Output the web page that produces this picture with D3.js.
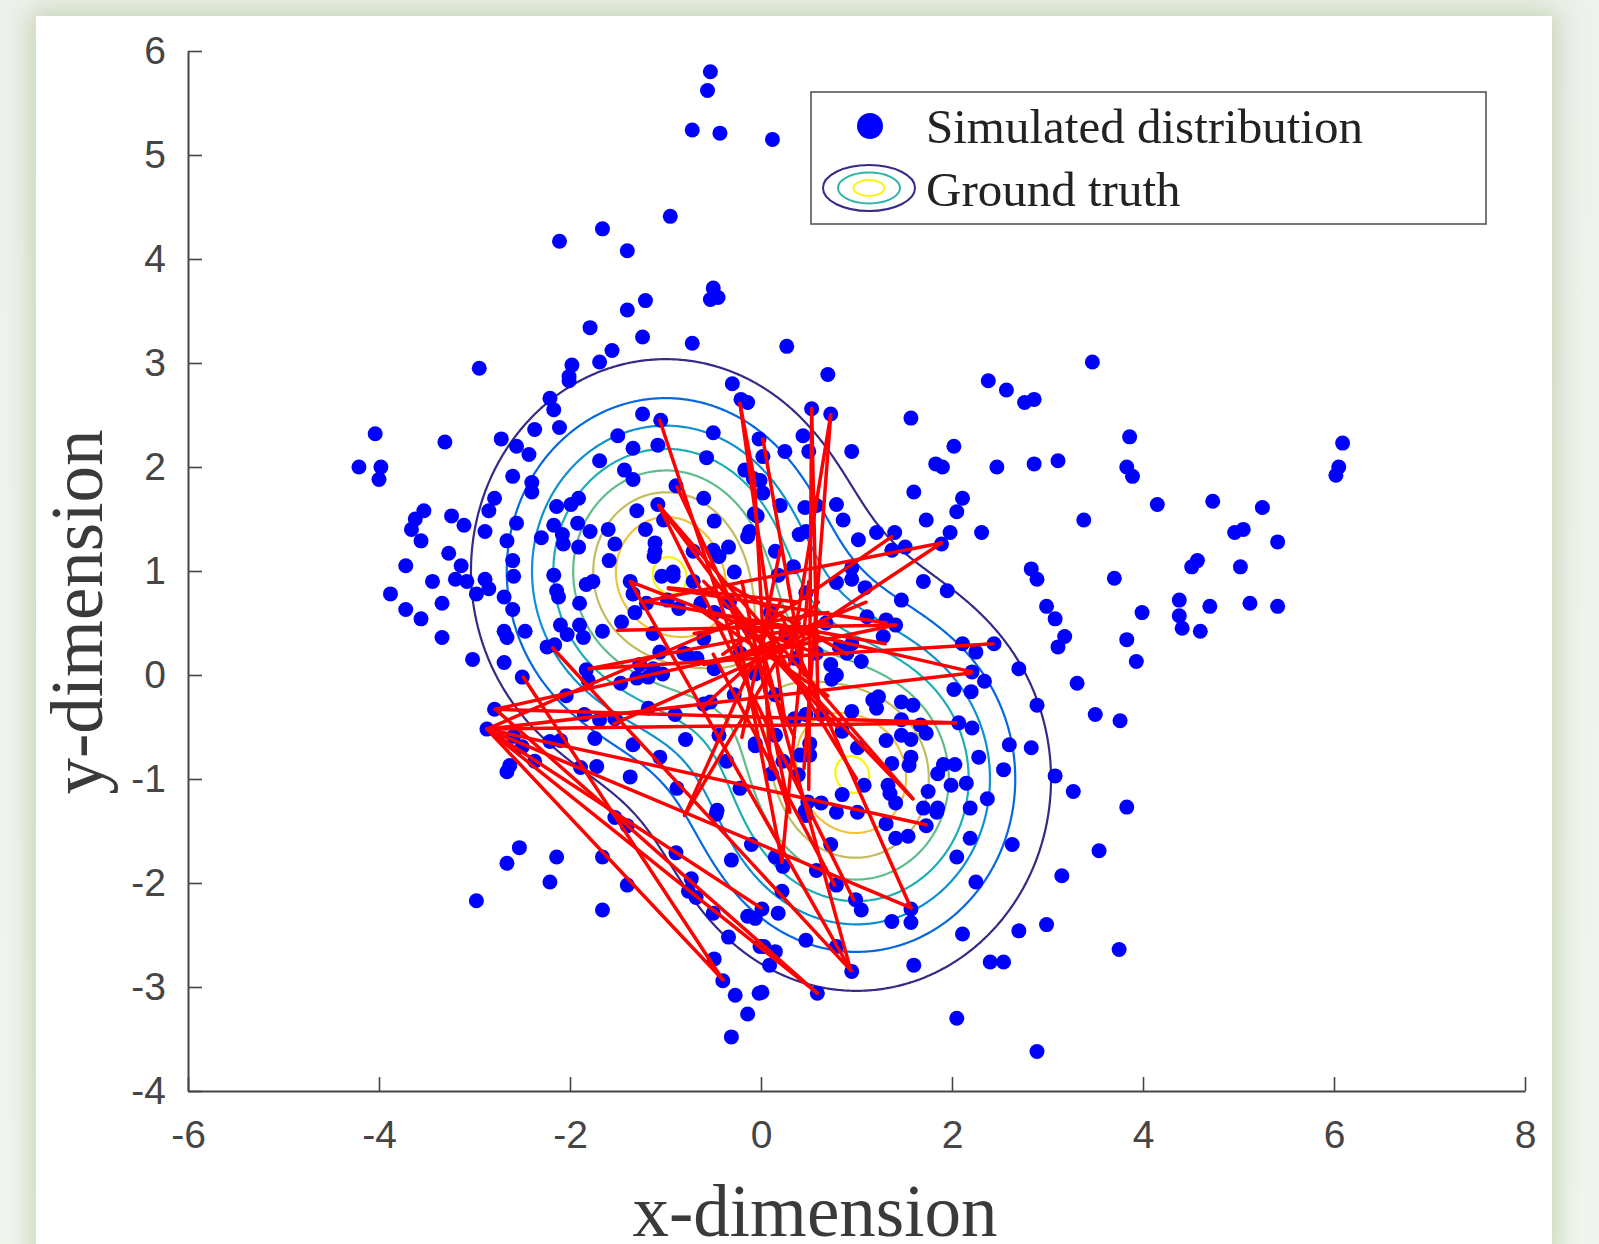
<!DOCTYPE html>
<html>
<head>
<meta charset="utf-8">
<script src="https://cdn.jsdelivr.net/npm/d3@7"></script>
<style>
  html, body { margin: 0; padding: 0; width: 1599px; height: 1244px; overflow: hidden;
    background: linear-gradient(#eef1ec, #f2f5ef); }
  #panel { position: absolute; left: 36px; top: 16px; width: 1516px; height: 1260px; background: #fff;
    box-shadow: 0 0 24px 6px rgba(165, 192, 140, 0.55); }
  svg { position: absolute; left: 0; top: 0; }
</style>
</head>
<body>
<div id="panel"></div>
<svg id="chart" width="1599" height="1244"></svg>
<script>
// ---------------- data ----------------
const xTicks = [-6, -4, -2, 0, 2, 4, 6, 8];
const yTicks = [-4, -3, -2, -1, 0, 1, 2, 3, 4, 5, 6];
const xLabel = "x-dimension";
const yLabel = "y-dimension";
const legendLabels = ["Simulated distribution", "Ground truth"];

// ground truth: two isotropic gaussian components
const gtMeans = [[-1, 1], [1, -1]];
const gtWeights = [0.5, 0.5];
const gtSigma = [1, 1];
const contourLevels = [0.01, 0.02, 0.03, 0.04, 0.05, 0.06, 0.07, 0.08];
const contourColors = ["#352a87", "#0568df", "#1090d0", "#1bafb5", "#5fbc8c", "#c1bc60", "#f0c23c", "#f9f50e"];

// simulated samples (blue dots)
const simulatedPoints = [
 [-0.53,5.80],[-0.56,5.62],[-0.72,5.24],[-0.43,5.21],[-0.95,4.41],[-1.66,4.29],[-2.11,4.17],[-1.40,4.08],
 [-0.50,3.72],[-0.53,3.61],[-0.45,3.63],[-1.21,3.60],[-1.40,3.51],[-1.79,3.34],[-1.24,3.25],[-0.72,3.19],
 [-1.56,3.12],[-1.69,3.01],[-1.98,2.98],[-2.01,2.87],[-2.01,2.83],[-2.95,2.95],[-2.21,2.66],[-2.17,2.55],
 [-2.11,2.38],[-2.37,2.36],[-2.72,2.27],[-2.56,2.20],[-2.43,2.12],[-4.04,2.32],[-3.31,2.24],[-4.21,2.00],
 [-3.98,2.00],[-4.00,1.88],[-1.24,2.51],[-1.05,2.45],[-0.30,2.80],[-0.21,2.65],[-0.14,2.62],[-0.50,2.33],
 [-1.50,2.30],[-1.08,2.21],[-1.34,2.18],[-0.57,2.09],[-0.02,2.27],[-1.69,2.06],[-1.43,1.97],[-1.34,1.88],
 [-2.60,1.91],[-2.40,1.85],[-2.40,1.76],[-0.89,1.82],[-0.08,1.89],[-0.60,1.70],[-2.79,1.70],[-2.85,1.58],
 [-3.53,1.58],[-3.62,1.50],[-3.66,1.40],[-3.24,1.53],[-3.11,1.44],[-3.56,1.29],[-2.89,1.38],[-2.56,1.46],
 [-2.66,1.29],[-2.14,1.62],[-1.99,1.64],[-1.91,1.70],[-1.92,1.46],[-2.17,1.44],[-2.30,1.32],[-2.08,1.35],
 [-2.07,1.26],[-1.91,1.23],[-1.79,1.38],[-1.60,1.40],[-1.53,1.26],[-1.30,1.58],[-1.08,1.64],[-1.02,1.49],
 [-1.21,1.40],[-1.11,1.27],[-1.11,1.19],[-3.27,1.17],[-0.50,1.20],[-0.34,1.23],[-0.14,1.33],[-0.07,1.55],
 [0.12,5.15],[0.27,3.16],[0.70,2.89],[0.53,2.56],[0.73,2.51],[0.44,2.30],[0.50,2.15],[0.25,2.15],
 [0.95,2.15],[0.02,2.10],[0.02,1.75],[1.57,2.47],[2.02,2.20],[1.83,2.03],[1.90,2.00],[2.38,2.83],
 [2.57,2.74],[2.76,2.62],[2.86,2.65],[3.47,3.01],[2.47,2.00],[2.86,2.03],[3.11,2.06],[3.86,2.29],
 [3.83,2.00],[3.89,1.91],[6.09,2.23],[6.05,2.00],[6.02,1.92],[1.60,1.76],[2.11,1.70],[2.05,1.57],
 [1.73,1.49],[1.98,1.37],[2.31,1.37],[4.15,1.64],[4.73,1.67],[5.25,1.61],[4.96,1.37],[5.05,1.40],
 [5.41,1.28],[3.38,1.49],[0.46,1.61],[0.79,1.64],[0.86,1.49],[0.40,1.35],[1.02,1.30],[1.21,1.37],
 [1.40,1.37],[1.51,1.23],[1.89,1.26],[1.37,1.20],
 [-3.72,1.05],[-3.14,1.05],[-3.20,0.92],[-3.08,0.90],[-3.44,0.90],[-3.88,0.78],[-3.72,0.63],[-3.56,0.54],
 [-3.34,0.69],[-3.34,0.36],[-3.02,0.15],[-2.89,0.92],[-2.85,0.83],[-2.98,0.78],[-2.69,0.75],[-2.60,1.10],
 [-2.59,0.95],[-2.60,0.63],[-2.69,0.42],[-2.66,0.36],[-2.47,0.42],[-2.69,0.12],[-2.50,-0.02],[-2.17,0.96],
 [-2.14,0.81],[-2.12,0.75],[-1.83,0.87],[-1.76,0.90],[-1.90,0.69],[-2.10,0.48],[-2.03,0.39],[-1.90,0.48],
 [-1.86,0.36],[-1.66,0.42],[-2.24,0.27],[-2.16,0.29],[-1.59,1.10],[-1.83,0.05],[-1.81,-0.05],[-1.47,-0.08],
 [-1.37,0.90],[-1.34,0.78],[-1.32,0.60],[-1.46,0.51],[-1.20,0.69],[-1.12,1.14],[-1.04,0.95],[-0.92,0.95],
 [-0.98,0.72],[-0.86,0.64],[-0.71,0.90],[-0.63,0.69],[-1.27,0.10],[-1.13,0.06],[-1.30,-0.03],[-1.18,-0.02],
 [-1.06,0.22],[-0.67,0.16],[-0.78,0.20],[-0.53,-0.26],[-0.90,-0.38],[-1.18,-0.32],[-2.04,-0.20],[-1.85,-0.38],
 [-1.69,-0.43],[-1.53,-0.42],[-1.34,-0.67],[-1.06,-0.79],[-0.79,-0.62],[-0.88,-1.09],[-1.37,-0.98],[-1.72,-0.88],
 [-1.89,-0.89],[-2.79,-0.33],[-2.87,-0.52],[-2.59,-0.59],[-2.50,-0.69],[-2.37,-0.83],[-2.63,-0.87],[-2.66,-0.93],
 [-2.21,-0.64],[-2.10,-0.63],[-1.74,-0.61],[-0.46,-1.30],[-0.36,-0.83],[-0.22,-1.09],[-0.06,-0.66],[-0.13,0.46],
 [2.83,1.02],[2.89,0.92],[3.70,0.93],[4.51,1.04],[4.57,1.10],[5.02,1.04],[2.99,0.66],[3.08,0.54],
 [3.99,0.60],[4.38,0.72],[4.38,0.57],[4.41,0.45],[4.70,0.66],[4.60,0.42],[5.12,0.69],[5.41,0.66],
 [3.18,0.37],[3.11,0.27],[3.83,0.34],[3.93,0.13],[3.31,-0.08],[2.70,0.06],[2.89,-0.29],[3.50,-0.38],
 [3.76,-0.44],[2.83,-0.70],[3.08,-0.97],[3.27,-1.12],[3.83,-1.27],[2.60,-0.67],[2.54,-0.91],[2.37,-1.19],
 [2.28,-0.79],[2.21,-0.51],[2.15,-1.04],[2.34,-0.06],[2.21,0.03],[2.20,-0.16],[2.02,-0.14],[2.11,0.30],
 [2.25,0.22],[2.44,0.30],[1.95,0.81],[1.70,0.90],[1.47,0.72],[1.09,0.84],[0.95,0.92],[0.95,1.03],
 [0.18,0.96],[1.11,0.56],[1.28,0.37],[1.41,0.48],[1.31,0.53],[0.95,0.30],[0.82,0.27],[1.05,0.13],
 [0.73,0.10],[0.79,0.00],[1.23,-0.21],[1.47,-0.26],[1.59,-0.29],[1.21,-0.32],[1.47,-0.43],[1.67,-0.48],
 [1.73,-0.56],[1.57,-0.62],[1.47,-0.58],[1.31,-0.63],[1.01,-0.70],[0.85,-0.54],[0.95,-0.35],[2.07,-0.46],
 [1.57,-0.79],[1.55,-0.87],[1.37,-0.85],[1.85,-0.95],[1.91,-0.86],[2.03,-0.86],[1.99,-1.06],[1.33,-1.06],
 [1.35,-1.14],[1.41,-1.23],[1.08,-1.06],[0.85,-1.15],[0.51,-0.77],[0.41,-0.77],[0.23,-0.83],[0.39,-0.96],
 [0.11,-0.95],[0.51,-0.66],[0.15,-0.58],[0.49,-1.22],[0.63,-1.23],[0.46,-1.31],[1.75,-1.12],[1.70,-1.28],
 [1.85,-1.28],[2.19,-1.28],[1.17,-0.24],[0.63,-0.38],[0.35,-0.42],
 [-2.53,-1.66],[-2.66,-1.81],[-2.14,-1.75],[-2.21,-1.99],[-2.98,-2.17],[-1.66,-1.75],[-1.40,-2.02],[-1.66,-2.26],
 [-1.53,-1.37],[-1.40,-1.45],[-0.89,-1.71],[-0.73,-1.96],[-0.76,-2.08],[-0.68,-2.14],[-0.50,-2.29],[-0.34,-2.52],
 [-0.49,-2.73],[-0.40,-2.94],[-0.27,-3.08],[-0.14,-3.26],[-0.31,-3.48],[-0.47,-1.34],[-0.31,-1.78],[-0.10,-1.63],
 [-0.14,-2.32],[-0.06,-2.34],[-0.01,-2.61],[-0.02,-3.06],
 [2.63,-1.63],[3.54,-1.69],[3.15,-1.93],[2.25,-1.99],[2.19,-1.57],[2.05,-1.75],[2.99,-2.40],[2.70,-2.46],
 [2.11,-2.49],[3.75,-2.64],[2.40,-2.76],[2.54,-2.76],[1.60,-2.79],[2.05,-3.30],[2.89,-3.62],[0.95,-2.85],
 [0.59,-3.06],[0.01,-3.05],[0.79,-2.61],[0.47,-2.55],[0.09,-2.79],[0.15,-2.66],[0.03,-2.61],[1.37,-2.37],
 [1.57,-2.38],[1.57,-2.25],[1.05,-2.26],[0.99,-2.16],[0.18,-2.29],[0.01,-2.25],[0.22,-2.08],[0.79,-2.02],
 [0.58,-1.88],[0.73,-1.63],[1.41,-1.57],[1.54,-1.55],[1.31,-1.43],[1.73,-1.45],[1.84,-1.32],[0.79,-1.32],
 [0.47,-1.35],[1.01,-1.32],[0.15,-1.75],[0.23,-1.84],
 [-0.44,1.14],[-0.28,0.99],[-0.12,1.38],[-0.04,1.53],[0.15,1.19],[0.34,1.04],[0.47,0.79],[-0.49,0.60],
 [-0.33,0.70],[0.10,0.60],[0.26,0.40],[-0.22,0.21],[-0.49,0.06],[0.36,0.16],[-0.06,0.01],[0.15,-0.19],
 [-0.28,-0.19],[-0.60,-0.28],[-0.44,-0.58],[-0.06,-0.68],[0.15,-0.58],[0.47,-0.38],[0.68,0.50],[0.79,0.89],
 [0.47,1.38],[0.58,1.63],[0.20,1.63],[-0.01,1.87],[-0.17,1.97],[-0.49,1.48],[-0.71,1.19],[-0.92,0.99],
 [-0.60,0.35],[-0.81,0.21],[-1.13,0.40],[-1.03,0.01],[0.58,0.21],[0.74,-0.04],[0.90,0.21]
];

// red connection segments: [start, end]
const redSegments = [
 [[-1.06,2.45],[0.30,-1.32]], [[-0.22,2.61],[0.25,-0.45]], [[-0.22,2.61],[-0.07,1.88]],
 [[-0.07,1.88],[0.10,-0.90]], [[0.02,2.27],[0.45,0.00]], [[0.53,2.56],[0.50,-1.10]],
 [[0.53,2.56],[0.60,-0.40]], [[0.73,2.50],[0.45,-0.90]], [[0.73,2.50],[0.30,0.10]],
 [[-0.88,1.81],[0.35,-0.60]], [[-1.07,1.63],[1.59,-1.19]], [[-1.07,1.63],[0.97,-2.16]],
 [[-1.07,1.63],[0.10,0.20]], [[-1.37,0.90],[0.94,-2.84]], [[-0.97,0.83],[1.31,0.50]],
 [[1.37,1.33],[-0.40,0.20]], [[1.89,1.27],[-0.20,0.00]], [[-1.50,0.43],[1.41,0.48]],
 [[-1.80,0.06],[2.43,0.30]], [[2.20,0.02],[-2.87,-0.52]], [[2.04,-0.46],[-2.87,-0.52]],
 [[-2.78,-0.33],[2.04,-0.46]], [[-2.87,-0.52],[-0.40,-2.93]], [[-2.49,-0.02],[-0.40,-2.93]],
 [[-2.78,-0.33],[0.59,-3.06]], [[-2.87,-0.52],[0.59,-3.06]], [[-2.87,-0.52],[0.00,-2.24]],
 [[-2.87,-0.52],[1.57,-2.24]], [[-2.87,-0.52],[1.73,-1.44]], [[-2.18,0.26],[0.94,-2.84]],
 [[-0.30,0.60],[0.80,-0.50]], [[0.60,0.70],[-0.60,-0.30]], [[-0.40,0.90],[0.90,0.20]],
 [[0.20,1.20],[-0.20,-0.60]], [[-0.70,0.40],[0.70,0.60]], [[0.00,0.50],[1.00,-1.00]],
 [[0.22,-1.80],[-0.30,0.70]], [[0.22,-1.80],[0.50,0.90]], [[0.00,0.30],[0.94,-2.84]],
 [[0.20,0.60],[1.57,-2.24]], [[-0.60,0.90],[1.59,-1.19]], [[-1.54,-0.47],[0.60,0.40]],
 [[-0.80,-1.35],[0.20,0.70]], [[-2.87,-0.52],[-0.30,0.50]], [[-2.78,-0.33],[0.30,0.30]],
 [[-1.80,0.06],[0.70,0.50]], [[-1.35,0.89],[0.60,0.20]], [[-1.21,0.71],[1.30,0.30]],
 [[-0.97,0.84],[0.40,0.70]], [[2.21,0.03],[-0.50,0.60]], [[1.41,0.48],[-0.60,0.10]],
 [[-0.50,0.20],[0.77,-2.02]], [[0.40,0.50],[-0.80,-1.35]], [[-0.20,0.90],[0.30,-1.30]],
 [[1.89,1.27],[-1.21,0.71]], [[-0.20,0.20],[1.10,0.70]], [[-0.60,0.60],[0.70,-0.20]]
];

// ---------------- drawing ----------------
const svg = d3.select("#chart");
const x = d3.scaleLinear().domain([-6, 8]).range([188, 1525]);
const y = d3.scaleLinear().domain([-4, 6]).range([1091, 51]);
const axisColor = "#454545";

// contours of the ground truth density
const step = 0.02, gx0 = -5, gy0 = -5, nx = 501, ny = 501;
const values = new Float64Array(nx * ny);
for (let j = 0; j < ny; j++) {
  const py = gy0 + j * step;
  for (let i = 0; i < nx; i++) {
    const px = gx0 + i * step;
    let v = 0;
    gtMeans.forEach((m, k) => {
      const s2 = gtSigma[k] * gtSigma[k];
      const d2 = (px - m[0]) ** 2 + (py - m[1]) ** 2;
      v += gtWeights[k] / (2 * Math.PI * s2) * Math.exp(-d2 / (2 * s2));
    });
    values[i + j * nx] = v;
  }
}
const contours = d3.contours().size([nx, ny]).thresholds(contourLevels)(values);
const proj = d3.geoTransform({
  point: function (gxp, gyp) {
    this.stream.point(x(gx0 + (gxp - 0.5) * step), y(gy0 + (gyp - 0.5) * step));
  }
});
const cpath = d3.geoPath(proj);
svg.append("g").selectAll("path").data(contours).join("path")
  .attr("d", cpath)
  .attr("fill", "none")
  .attr("stroke", d => contourColors[contourLevels.indexOf(d.value)])
  .attr("stroke-width", 2.2);

// dots
svg.append("g").selectAll("circle").data(simulatedPoints).join("circle")
  .attr("cx", d => x(d[0])).attr("cy", d => y(d[1])).attr("r", 7.5)
  .attr("fill", "#0000ff");

// red segments
svg.append("g").selectAll("line").data(redSegments).join("line")
  .attr("x1", d => x(d[0][0])).attr("y1", d => y(d[0][1]))
  .attr("x2", d => x(d[1][0])).attr("y2", d => y(d[1][1]))
  .attr("stroke", "#ff0000").attr("stroke-width", 3.5).attr("stroke-linecap", "round");

// axes
const gx = svg.append("g").attr("transform", `translate(0,${y(-4)})`)
  .call(d3.axisBottom(x).tickValues(xTicks).tickFormat(d => String(d))
    .tickSizeInner(-14).tickSizeOuter(0).tickPadding(29));
const gy = svg.append("g").attr("transform", `translate(${x(-6)},0)`)
  .call(d3.axisLeft(y).tickValues(yTicks).tickFormat(d => String(d))
    .tickSizeInner(-14).tickSizeOuter(0).tickPadding(22));
[gx, gy].forEach(g => {
  g.select(".domain").attr("stroke", axisColor).attr("stroke-width", 2);
  g.selectAll(".tick line").attr("stroke", axisColor).attr("stroke-width", 1.6);
  g.selectAll(".tick text").attr("fill", axisColor)
    .style("font-family", "'Liberation Sans', Arial, Helvetica, sans-serif")
    .style("font-size", "39px");
});

// axis titles
svg.append("text").text(xLabel)
  .attr("x", 815).attr("y", 1236).attr("text-anchor", "middle")
  .style("font-family", "'Liberation Serif', 'Times New Roman', serif")
  .style("font-size", "73px").attr("fill", "#3a3a3a");
svg.append("text").text(yLabel)
  .attr("transform", "translate(102,612) rotate(-90)").attr("text-anchor", "middle")
  .style("font-family", "'Liberation Serif', 'Times New Roman', serif")
  .style("font-size", "73px").attr("fill", "#3a3a3a");

// legend
const lg = svg.append("g");
lg.append("rect").attr("x", 811).attr("y", 92).attr("width", 675).attr("height", 132)
  .attr("fill", "#fff").attr("stroke", "#555").attr("stroke-width", 1.6);
lg.append("circle").attr("cx", 870).attr("cy", 126).attr("r", 13).attr("fill", "#0000ff");
const legendRings = [[46, 23, contourColors[0]], [31, 15.5, "#2fb4a6"], [15.5, 8, "#f9f50e"]];
lg.selectAll("ellipse").data(legendRings).join("ellipse")
  .attr("cx", 869).attr("cy", 188).attr("rx", d => d[0]).attr("ry", d => d[1])
  .attr("fill", "none").attr("stroke", d => d[2]).attr("stroke-width", 2);
lg.selectAll("text").data(legendLabels).join("text")
  .text(d => d).attr("x", 926).attr("y", (d, i) => i === 0 ? 143 : 206)
  .style("font-family", "'Liberation Serif', 'Times New Roman', serif")
  .style("font-size", "49px").attr("fill", "#222");
</script>
</body>
</html>
